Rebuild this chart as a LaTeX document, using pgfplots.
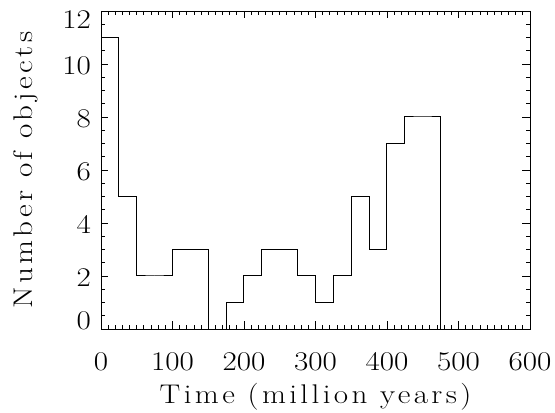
\documentclass[border=0pt]{standalone}
\usepackage{fontspec}
\setmainfont{Latin Modern Roman}[FakeStretch=1.15]
\usepackage{pgfplots}
\pgfplotsset{compat=1.18}
\begin{document}
\begin{tikzpicture}
\begin{axis}[
  at={(101bp,84bp)}, anchor=south west,
  scale only axis, width=429bp, height=318bp,
  xmin=0, xmax=600, ymin=0, ymax=12,
  xtick={0,100,...,600}, minor x tick num=9,
  ytick={0,2,...,12}, minor y tick num=3,
  yticklabels={{\raisebox{9.5bp}[\height][\depth]{0}},2,4,6,8,10,{\raisebox{-7.5bp}[\height][\depth]{12}}},
  tick align=inside, tick pos=both,
  major tick length=7.5bp, minor tick length=4bp,
  every tick/.style={black, line width=0.8bp},
  axis line style={line width=0.9bp},
  /pgf/number format/assume math mode=true,
  tick label style={font=\fontsize{27bp}{32bp}\selectfont, inner sep=0pt},
  xticklabel style={anchor=base, yshift=-41bp},
  yticklabel style={anchor=east, xshift=-10bp, yshift=-1.5bp},
  label style={font=\fontsize{27bp}{32bp}\selectfont\addfontfeatures{LetterSpace=12.5}, inner sep=0pt},
  xlabel={Time (million years)},
  ylabel={Number of objects},
  xlabel style={at={(axis description cs:0.5,-0.2358)}, anchor=base},
  ylabel style={at={(axis description cs:-0.1592,0.5)}, anchor=base},
]
\addplot[const plot mark left, black, line width=1bp] coordinates {
  (0,11) (25,5) (50,2) (75,2) (100,3) (125,3) (150,0) (175,1) (200,2)
  (225,3) (250,3) (275,2) (300,1) (325,2) (350,5) (375,3) (400,7)
  (425,8) (450,8) (475,0) (500,0) (525,0) (550,0) (575,0) (600,0)
};
\end{axis}
\pgfresetboundingbox
\path (0,0) rectangle (555bp,413bp);
\end{tikzpicture}
\end{document}
